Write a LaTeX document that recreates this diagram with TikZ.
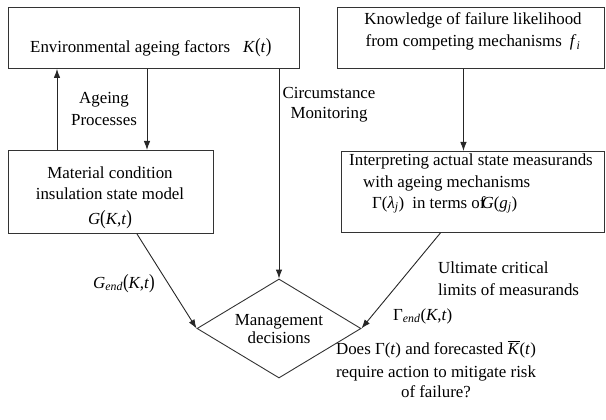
\documentclass[tikz,border=0pt]{standalone}
\usepackage{fontspec}
\setmainfont{Liberation Serif}
\usepackage{graphicx}
\usetikzlibrary{arrows.meta,shapes.geometric}
\newcommand{\mysub}[1]{\textsubscript{\textit{#1}}}
\newcommand{\bigpar}[1]{\scalebox{1}[1.2]{(}#1\scalebox{1}[1.2]{)}}
\newcommand{\ovK}{$\overline{\hbox{\textit{K}}}$}
\begin{document}
\begin{tikzpicture}[x=1pt,y=-1pt,
  font=\fontsize{16.9}{22}\selectfont,
  boxst/.style={draw=black!80, line width=0.9pt, inner sep=0pt, anchor=north west},
  conn/.style={draw=black!85, line width=0.9pt, -{Latex[length=9pt,width=6.5pt]}},
  txt/.style={inner sep=0pt, align=center}]
\useasboundingbox (0,0) rectangle (606,420);
% boxes
\node[boxst, minimum width=291.5pt, minimum height=61pt] (env) at (7.5,7) {};
\node[boxst, minimum width=267pt, minimum height=61pt] (know) at (337,7) {};
\node[boxst, minimum width=205pt, minimum height=83pt] (mat) at (7.5,150) {};
\node[boxst, minimum width=263pt, minimum height=81pt] (interp) at (341,151) {};
\node[diamond, draw=black!80, line width=0.9pt, minimum width=164pt, minimum height=99pt, inner sep=0pt] (dec) at (279,328.5) {};
% box texts
\node[txt, anchor=base west] (envtxt) at (30,53) {Environmental ageing factors\hspace{13pt}\textit{K}\bigpar{\textit{t}}};
\node[txt, anchor=base] (knowtxt) at (473,47) {Knowledge of failure likelihood\\from competing mechanisms\hspace{8pt}\textit{f}\mysub{i}};
\node[txt, anchor=base] (mattxt) at (110,224) {Material condition\\[-1pt]insulation state model\\[3pt]\textit{G}\bigpar{\textit{K},\textit{t}}};
\node[txt, align=left, anchor=base west] (interptxt) at (349,208) {Interpreting actual state measurands\\\hspace*{14pt}with ageing mechanisms\\[-1pt]\hspace*{23pt}Γ(\textit{λ}\mysub{j})\hspace{8pt}in terms of\hspace{-4pt}\textit{G}(\textit{g}\mysub{j})};
\node[txt, anchor=base] (dectxt) at (279,343) {Management\\[-4pt]decisions};
% labels
\node[txt, anchor=base] (agelbl) at (104,125) {Ageing\\Processes};
\node[txt, anchor=base] (cmlbl) at (329,118) {Circumstance\\[-2pt]Monitoring};
\node[txt, anchor=base east] (gend) at (155,288) {\textit{G}\mysub{end}\bigpar{\textit{K},\textit{t}}};
\node[txt, align=left, anchor=base west] (ult) at (438,295) {Ultimate critical\\limits of measurands};
\node[txt, anchor=base west] (gamend) at (393,320) {Γ\mysub{end}(\textit{K},\textit{t})};
\node[txt, anchor=base] (q) at (436,397) {Does Γ(\textit{t}) and forecasted \ovK(\textit{t})\\[1pt]require action to mitigate risk\\[-2pt]of failure?};
% connectors
\coordinate (upx) at ([xshift=49.5pt]mat.north west);
\coordinate (dnx) at ([xshift=139.5pt]mat.north west);
\coordinate (kx) at ([xshift=-7.5pt]know.south);
\coordinate (ms) at ([xshift=26.5pt]mat.south);
\coordinate (is) at ([xshift=-32.5pt]interp.south);
\draw[conn] (upx) -- (upx |- env.south);
\draw[conn] (dnx |- env.south) -- (dnx);
\draw[conn] (dec.north |- env.south) -- (dec.north);
\draw[conn] (kx) -- (kx |- interp.north);
\draw[conn] (ms) -- (dec.west);
\draw[conn] (is) -- (dec.east);
\end{tikzpicture}
\end{document}
